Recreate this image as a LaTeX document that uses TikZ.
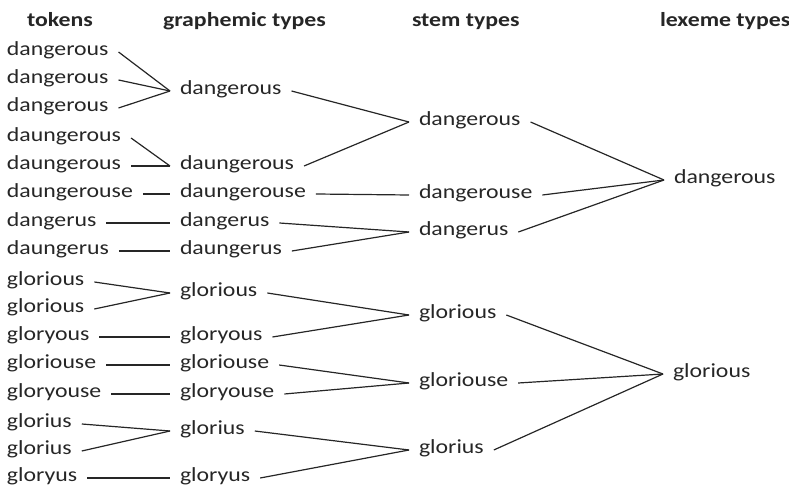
\documentclass[tikz,border=0pt]{standalone}
\usepackage{fontspec}
\setmainfont{Carlito}[FakeStretch=1.19]
\definecolor{ink}{RGB}{38,38,38}
\begin{document}
\begin{tikzpicture}[x=0.75pt,y=-0.75pt,
  w/.style={anchor=west,font=\fontsize{15pt}{18pt}\selectfont,text=ink,
    inner xsep=4.5pt,outer xsep=3pt,inner ysep=0pt,text height=0.7em,text depth=0.2em},
  hd/.style={w,font=\fontsize{15pt}{18pt}\selectfont\bfseries},
  ln/.style={draw=ink,line width=0.9pt}]
\useasboundingbox (0,0) rectangle (789,488);
% headers
\node[hd] (h1) at (17,23.5) {tokens};
\node[hd] (h2) at (153,23.5) {graphemic types};
\node[hd] (h3) at (402,23.5) {stem types};
\node[hd] (h4) at (650,23.5) {lexeme types};
% tokens
\foreach \n/\t/\y in {t1/dangerous/50,t2/dangerous/78,t3/dangerous/106,
  t4/daungerous/136,t5/daungerous/164,t6/daungerouse/192,t7/dangerus/221,
  t8/daungerus/249,t9/glorious/280,t10/glorious/307,t11/gloryous/335,
  t12/gloriouse/363,t13/gloryouse/392,t14/glorius/422,t15/glorius/449,
  t16/gloryus/476}
  \node[w] (\n) at (-3,\y+2) {\t};
% graphemic types
\foreach \n/\t/\y in {g1/dangerous/89,g2/daungerous/164,g3/daungerouse/192,
  g4/dangerus/221,g5/daungerus/249,g6/glorious/291,g7/gloryous/335,
  g8/gloriouse/363,g9/gloryouse/392,g10/glorius/429,g11/gloryus/476}
  \node[w] (\n) at (170,\y+2) {\t};
% stem types
\foreach \n/\t/\y in {s1/dangerous/120,s2/dangerouse/193,s3/dangerus/230,
  s4/glorious/313,s5/gloriouse/381,s6/glorius/448}
  \node[w] (\n) at (409,\y+2) {\t};
% lexeme types
\node[w] (l1) at (664,180) {dangerous};
\node[w] (l2) at (663,374) {glorious};
% connectors
\foreach \a/\b in {t1/g1,t2/g1,t3/g1,t4/g2,t5/g2,t6/g3,t7/g4,t8/g5,
  t9/g6,t10/g6,t11/g7,t12/g8,t13/g9,t14/g10,t15/g10,t16/g11,
  g1/s1,g2/s1,g3/s2,g4/s3,g5/s3,g6/s4,g7/s4,g8/s5,g9/s5,g10/s6,g11/s6,
  s1/l1,s2/l1,s3/l1,s4/l2,s5/l2,s6/l2}
  \draw[ln] (\a.east) -- (\b.west);
\end{tikzpicture}
\end{document}
